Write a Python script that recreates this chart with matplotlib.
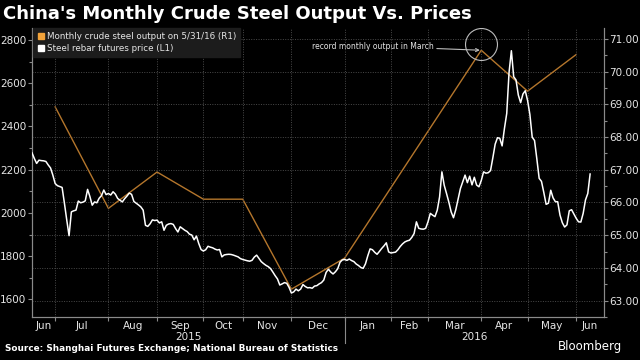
import numpy as np
import matplotlib.pyplot as plt
from matplotlib.lines import Line2D
from matplotlib.transforms import blended_transform_factory

# month keys for the x axis (trading-day axis, month by month)
month_keys = ['2015-06', '2015-07', '2015-08', '2015-09', '2015-10', '2015-11', '2015-12',
              '2016-01', '2016-02', '2016-03', '2016-04', '2016-05', '2016-06']
month_labels = ['Jun', 'Jul', 'Aug', 'Sep', 'Oct', 'Nov', 'Dec',
                'Jan', 'Feb', 'Mar', 'Apr', 'May', 'Jun']

# steel rebar futures price (L1), one value per trading day
jun15 = [2278, 2252, 2229, 2244, 2242, 2241, 2238, 2222, 2208, 2175]
jul15 = [2136, 2126, 2122, 2118, 2045, 1968, 1895, 2005, 2010, 2013, 2055, 2047, 2050, 2056,
         2109, 2076, 2036, 2051, 2047, 2068, 2080, 2106, 2085]
aug15 = [2090, 2083, 2098, 2087, 2067, 2059, 2051, 2066, 2078, 2092, 2086, 2053, 2045, 2037,
         2028, 2013, 1943, 1938, 1950, 1968, 1965]
sep15 = [1967, 1954, 1959, 1920, 1943, 1949, 1951, 1947, 1928, 1912, 1936, 1928, 1920, 1914,
         1902, 1898, 1876, 1893, 1859, 1831]
oct15 = [1824, 1830, 1846, 1842, 1839, 1833, 1829, 1831, 1797, 1806, 1808, 1809, 1808, 1805,
         1801, 1797, 1789]
nov15 = [1785, 1782, 1779, 1777, 1781, 1796, 1805, 1790, 1775, 1766, 1758, 1752, 1743, 1727,
         1710, 1695, 1667, 1672, 1678, 1675, 1656]
dec15 = [1630, 1635, 1648, 1640, 1648, 1669, 1660, 1654, 1655, 1652, 1662, 1664, 1672, 1678,
         1690, 1725, 1740, 1727, 1718, 1728, 1742, 1772, 1783]
jan16 = [1785, 1781, 1787, 1780, 1775, 1764, 1757, 1748, 1744, 1765, 1802, 1834, 1830, 1818,
         1809, 1822, 1836, 1848, 1862, 1820]
feb16 = [1815, 1817, 1819, 1830, 1845, 1857, 1866, 1871, 1874, 1887, 1905, 1959, 1929, 1926,
         1925, 1929]
mar16 = [1959, 1998, 1990, 1983, 2013, 2074, 2190, 2128, 2090, 2050, 2005, 1978, 2015, 2065,
         2113, 2144, 2175, 2140, 2170, 2130, 2165, 2129, 2121]
apr16 = [2150, 2190, 2184, 2186, 2196, 2255, 2318, 2348, 2345, 2310, 2390, 2460, 2650, 2750,
         2630, 2615, 2545, 2510, 2550, 2565]
may16 = [2520, 2455, 2350, 2335, 2250, 2160, 2146, 2095, 2040, 2045, 2105, 2070, 2052, 2052,
         1990, 1955, 1935, 1945, 2010, 2015, 1995]
jun16 = [1975, 1959, 1958, 1998, 2060, 2090, 2180]
rebar_by_month = [jun15, jul15, aug15, sep15, oct15, nov15, dec15,
                  jan16, feb16, mar16, apr16, may16, jun16]

# monthly crude steel output (R1), million tonnes; Jan/Feb not reported separately
output_keys = ['2015-06', '2015-07', '2015-08', '2015-09', '2015-10', '2015-11', '2015-12',
               '2016-03', '2016-04', '2016-05']
output = [68.92, 65.82, 66.93, 66.10, 66.10, 63.35, 64.30, 70.65, 69.40, 70.52]

BG = 'black'
GRID = '#4a4a4a'
AXC = '#8a8a8a'
TXT = '#e6e6e6'
ORANGE_LINE = '#b4762c'
ORANGE_KEY = '#f2a33a'

# trading-day index of each month start
lengths = [len(m) for m in rebar_by_month]
starts = np.concatenate([[0], np.cumsum(lengths)])
price = np.concatenate(rebar_by_month)
days = np.arange(len(price))
x_end = starts[12] + 12

# output plotted at the start of the following month
out_x = [starts[month_keys.index(k) + 1] for k in output_keys]

fig = plt.figure(figsize=(6.4, 3.6), dpi=100, facecolor=BG)
ax = fig.add_axes([0.05, 0.1194, 0.89375, 0.8028])
ax.set_facecolor(BG)
ax2 = ax.twinx()

ax.set_xlim(0, x_end)
ax.set_ylim(1519, 2855)
ax2.set_ylim(62.58, 71.33)

# grid: vertical at month boundaries, horizontal at right axis ticks
for b in starts[1:13]:
    ax.axvline(b, color=GRID, lw=0.7, ls=(0, (1, 1.5)), zorder=0)
ax2.set_yticks(np.arange(63, 72, 1))
ax2.set_yticks(np.arange(62.5, 71.5, 0.5), minor=True)
ax2.grid(axis='y', color=GRID, lw=0.7, ls=(0, (1, 1.5)))
ax2.set_axisbelow(True)

ax2.plot(out_x, output, color=ORANGE_LINE, lw=1.0, zorder=2)
ax.plot(days, price, color='white', lw=1.1, zorder=3)
ax.set_zorder(ax2.get_zorder() + 1)
ax.patch.set_visible(False)

# left axis
ax.set_yticks(np.arange(1600, 2801, 200))
ax.set_yticks(np.arange(1600, 2801, 100), minor=True)
ax.tick_params(axis='y', colors=AXC, labelcolor=TXT, labelsize=7.5, length=3, width=0.8, pad=1)
ax.tick_params(axis='y', which='minor', colors=AXC, length=2, width=0.8)
ax2.yaxis.set_major_formatter(plt.FuncFormatter(lambda v, p: f'{v:.2f}'))
ax2.tick_params(axis='y', colors=AXC, labelcolor=TXT, labelsize=7.5, length=3, width=0.8, pad=1)
ax2.tick_params(axis='y', which='minor', colors=AXC, length=2, width=0.8)

# x axis: boundary ticks, labels centred in months
centers = [(starts[i] + starts[i + 1]) / 2 for i in range(12)] + [(starts[12] + x_end) / 2]
ax.set_xticks(starts[1:13])
ax.set_xticklabels([])
ax.set_xticks(centers, minor=True)
ax.set_xticklabels(month_labels, minor=True)
ax.tick_params(axis='x', which='major', colors=AXC, length=3, width=0.8)
ax.tick_params(axis='x', which='minor', length=0, labelcolor=TXT, labelsize=7.5, pad=3)

for a in (ax, ax2):
    a.spines['top'].set_visible(False)
    for s in ('left', 'right', 'bottom'):
        a.spines[s].set_color(AXC)
        a.spines[s].set_linewidth(0.8)

# year labels and year separator
jan = starts[month_keys.index('2016-01')]
tr = blended_transform_factory(ax.transData, ax.transAxes)
ax.plot([jan, jan], [0, -0.09], transform=tr, color=AXC, lw=0.8, clip_on=False)
ax.text(jan / 2, -0.052, '2015', transform=tr, ha='center', va='top', color=TXT, fontsize=7.5)
ax.text((jan + x_end) / 2, -0.052, '2016', transform=tr, ha='center', va='top', color=TXT, fontsize=7.5)

# legend
handles = [Line2D([], [], marker='s', ls='', color=ORANGE_KEY, markersize=5),
           Line2D([], [], marker='s', ls='', color='white', markersize=5)]
leg = ax.legend(handles, ['Monthly crude steel output on 5/31/16 (R1)', 'Steel rebar futures price (L1)'],
                loc='upper left', bbox_to_anchor=(0.002, 1.0), fontsize=6.3, frameon=True,
                facecolor='#1c1c1c', edgecolor='#1c1c1c', framealpha=1, fancybox=False,
                handlelength=0.8, handletextpad=0.3, labelspacing=0.3, borderpad=0.45,
                borderaxespad=0)
for t in leg.get_texts():
    t.set_color(TXT)

# annotation: record output in March
i_mar = output_keys.index('2016-03')
ax2.plot(out_x[i_mar], output[i_mar] + 0.2, marker='o', ms=23, mfc='none', mec='#bdbdbd', mew=0.8,
         zorder=4)
ax2.annotate('record monthly output in March', xy=(out_x[i_mar], output[i_mar]),
             xytext=(-34, 3), textcoords='offset points', ha='right', va='center',
             color=TXT, fontsize=5.5,
             arrowprops=dict(arrowstyle='->', color='#bdbdbd', lw=0.8, shrinkA=0, shrinkB=1))

fig.text(0.004, 0.985, "China's Monthly Crude Steel Output Vs. Prices", ha='left', va='top',
         color='white', fontsize=13, fontweight='bold')
fig.text(0.008, 0.02, 'Source: Shanghai Futures Exchange; National Bureau of Statistics',
         ha='left', va='bottom', color='white', fontsize=6.4, fontweight='bold')
fig.text(0.972, 0.02, 'Bloomberg', ha='right', va='bottom', color='white', fontsize=8.5)

fig.savefig('out.png', dpi=100, facecolor=BG)
